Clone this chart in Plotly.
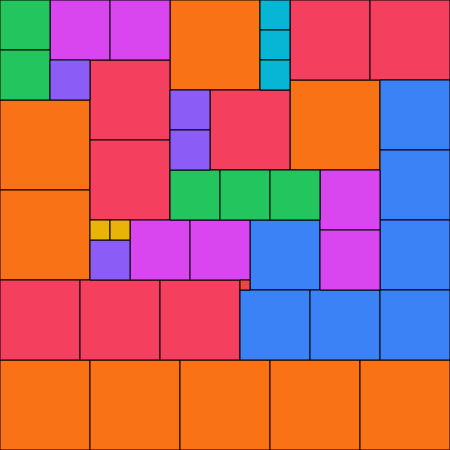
import plotly.graph_objects as go

# Partridge tiling: n squares of side n (n = 1..9) in a 45x45 square
sizes = [9, 9, 9, 9, 9, 9, 9, 9, 9,
         8, 8, 8, 8, 8, 8, 8, 8,
         7, 7, 7, 7, 7, 7, 7,
         6, 6, 6, 6, 6, 6,
         5, 5, 5, 5, 5,
         4, 4, 4, 4,
         3, 3, 3,
         2, 2,
         1]
x_left = [17, 29, 0, 0, 0, 9, 18, 27, 36,
          29, 37, 9, 21, 9, 0, 8, 16,
          38, 38, 38, 25, 24, 31, 38,
          5, 11, 32, 32, 13, 19,
          0, 0, 17, 22, 27,
          5, 17, 17, 9,
          26, 26, 26,
          9, 11,
          24]
y_top = [0, 8, 10, 19, 36, 36, 36, 36, 36,
         0, 0, 6, 9, 14, 28, 28, 28,
         8, 15, 22, 22, 29, 29, 29,
         0, 0, 17, 23, 22, 22,
         0, 5, 17, 17, 17,
         6, 9, 13, 24,
         0, 3, 6,
         22, 22,
         28]
size_colors = {9: "#F97316", 8: "#F43F5E", 7: "#3B82F6", 6: "#D946EF",
               5: "#22C55E", 4: "#8B5CF6", 3: "#06B6D4", 2: "#EAB308", 1: "#EF4444"}

fig = go.Figure()
for s, x0, y0 in zip(sizes, x_left, y_top):
    fig.add_trace(go.Scatter(
        x=[x0, x0 + s, x0 + s, x0, x0],
        y=[y0, y0, y0 + s, y0 + s, y0],
        mode="lines", fill="toself",
        fillcolor=size_colors[s],
        line=dict(color="#000000", width=1),
        hoverinfo="skip", showlegend=False,
    ))

fig.update_layout(
    width=450, height=450,
    margin=dict(l=0, r=0, t=0, b=0),
    paper_bgcolor="white", plot_bgcolor="white",
    xaxis=dict(range=[0, 45], visible=False, showgrid=False, zeroline=False),
    yaxis=dict(range=[45, 0], visible=False, showgrid=False, zeroline=False),
)
fig.write_html(
    "out.html",
    config={"displayModeBar": False},
    post_script="document.body.style.margin='0';document.body.style.padding='0';document.body.style.overflow='hidden';",
)
